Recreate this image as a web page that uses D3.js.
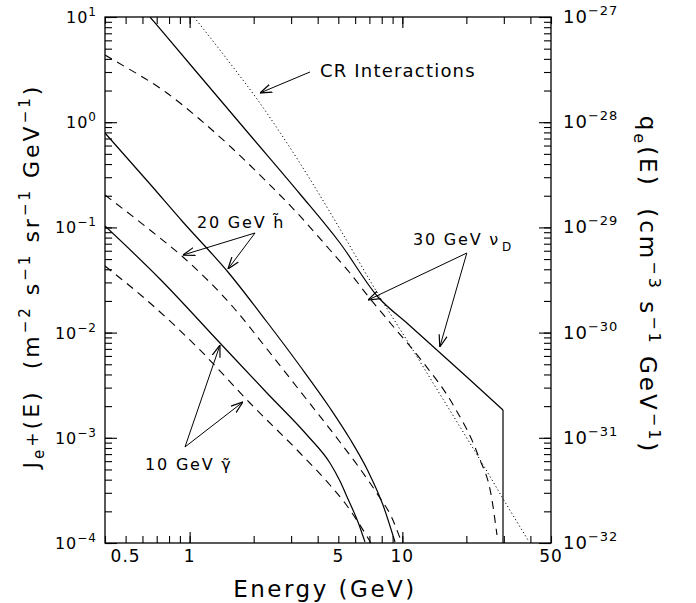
<!DOCTYPE html>
<html>
<head>
<meta charset="utf-8">
<script src="https://cdn.jsdelivr.net/npm/d3@7"></script>
<style>
  body { margin: 0; background: #fff; }
  svg text { font-family: "DejaVu Sans", sans-serif; fill: #000; white-space: pre; }
</style>
</head>
<body>
<svg id="chart" width="696" height="603"></svg>
<script>
// energies (GeV) and fluxes J
var crE = [1.048, 1.599, 2.073, 2.748, 3.801, 5.090, 7.683, 10.63, 14.71, 19.70, 24.47, 29.42, 38.97];
var crJ = [10, 3.347, 1.662, 0.7235, 0.2585, 0.09656, 0.02328, 0.008138, 0.002785, 0.001063, 0.0005163, 0.0002737, 0.0001068];

var nuSolidE = [0.651, 1.118, 1.921, 3.302, 5.090, 7.683, 10.63, 14.71, 20.35, 29.74];
var nuSolidJ = [10, 2.749, 0.7556, 0.2077, 0.07106, 0.02180, 0.01207, 0.006684, 0.003702, 0.001837];

var nuDashE = [0.400, 0.4554, 0.782, 1.118, 1.599, 2.310, 3.302, 4.568, 5.675, 6.893, 8.940, 12.37, 17.68, 22.68, 26.40, 27.86];
var nuDashJ = [4.354, 3.734, 1.895, 1.061, 0.5561, 0.2701, 0.1284, 0.06098, 0.03685, 0.02228, 0.01181, 0.005370, 0.001920, 0.0006864, 0.0002563, 0.0001191];

var hSolidE = [0.400, 0.651, 0.930, 1.514, 2.310, 3.302, 4.568, 5.675, 6.893, 8.110, 9.236];
var hSolidJ = [0.7895, 0.2585, 0.1125, 0.03767, 0.01261, 0.004815, 0.001920, 0.0009741, 0.0004835, 0.0002297, 0.0001022];

var hDashE = [0.400, 0.651, 0.930, 1.599, 2.310, 3.302, 5.090, 6.188, 7.683, 8.940, 9.748];
var hDashJ = [0.2032, 0.09447, 0.05233, 0.01751, 0.006984, 0.002785, 0.0009122, 0.0005394, 0.0002859, 0.0001728, 0.0001115];

var gSolidE = [0.400, 0.725, 1.389, 2.310, 3.562, 4.568, 5.090, 5.553, 6.188, 6.673];
var gSolidJ = [0.1031, 0.03232, 0.007962, 0.002666, 0.001063, 0.0005761, 0.0003885, 0.0002620, 0.0001583, 0.0001022];

var gDashE = [0.400, 0.651, 1.118, 1.921, 3.302, 4.568, 5.374, 6.188, 6.893, 7.120];
var gDashJ = [0.04295, 0.01911, 0.006835, 0.002142, 0.0007171, 0.0003558, 0.0002400, 0.0001583, 0.0001115, 0.0001];

var xTickLabels = [0.5, 1, 5, 10, 50];
var leftExponents = ["1", "0", "\u22121", "\u22122", "\u22123", "\u22124"];
var rightExponents = ["\u221227", "\u221228", "\u221229", "\u221230", "\u221231", "\u221232"];
var decades = [10, 1, 0.1, 0.01, 0.001, 0.0001];

(function() {
var svg = d3.select("#chart");
var pLeft = 105, pRight = 551, pTop = 17, pBottom = 543;

var x = d3.scaleLog().domain([0.4, 50]).range([pLeft, pRight]);
var y = d3.scaleLog().domain([1e-4, 10]).range([pBottom, pTop]);

function zip(a, b) { return a.map(function(v, i) { return [v, b[i]]; }); }

// ticks
var xMinor = x.ticks();
var xMajor = [1, 10];
var yMinor = y.ticks();
var yMajor = decades;

function tickAxis(axis, vals, size) {
  return axis.tickValues(vals).tickSize(size).tickSizeOuter(0).tickFormat("");
}
var axes = [
  [d3.axisBottom(x), "translate(0," + pBottom + ")", xMinor, -7],
  [d3.axisBottom(x), "translate(0," + pBottom + ")", xMajor, -11],
  [d3.axisTop(x), "translate(0," + pTop + ")", xMinor, -7],
  [d3.axisTop(x), "translate(0," + pTop + ")", xMajor, -11],
  [d3.axisLeft(y), "translate(" + pLeft + ",0)", yMinor, -7],
  [d3.axisLeft(y), "translate(" + pLeft + ",0)", yMajor, -12],
  [d3.axisRight(y), "translate(" + pRight + ",0)", yMinor, -7],
  [d3.axisRight(y), "translate(" + pRight + ",0)", yMajor, -12]
];
axes.forEach(function(a) {
  var g = svg.append("g").attr("transform", a[1]).call(tickAxis(a[0], a[2], a[3]));
  g.select(".domain").remove();
  g.selectAll("line").attr("stroke", "#000").attr("stroke-width", 1.1);
});

svg.append("rect")
  .attr("x", pLeft).attr("y", pTop)
  .attr("width", pRight - pLeft).attr("height", pBottom - pTop)
  .attr("fill", "none").attr("stroke", "#000").attr("stroke-width", 1.3);

// x tick labels
svg.selectAll(".xlab").data(xTickLabels).enter().append("text")
  .attr("class", "xlab")
  .attr("x", function(d) { return x(d); })
  .attr("y", 562)
  .attr("text-anchor", "middle")
  .attr("font-size", 17)
  .attr("letter-spacing", 1)
  .text(function(d) { return d; });

// left y labels
var yl = svg.selectAll(".ylab").data(decades).enter().append("text")
  .attr("class", "ylab")
  .attr("x", 97)
  .attr("y", function(d) { return y(d) + 6; })
  .attr("text-anchor", "end")
  .attr("font-size", 16)
  .attr("letter-spacing", 1);
yl.append("tspan").text("10");
yl.append("tspan").attr("font-size", 12).attr("dy", -7).text(function(d, i) { return leftExponents[i]; });

// right y labels
var yr = svg.selectAll(".yrlab").data(decades).enter().append("text")
  .attr("class", "yrlab")
  .attr("x", 563)
  .attr("y", function(d) { return y(d) + 6; })
  .attr("font-size", 18)
  .attr("letter-spacing", 1);
yr.append("tspan").text("10");
yr.append("tspan").attr("font-size", 13).attr("dy", -8).text(function(d, i) { return rightExponents[i]; });

// axis titles
svg.append("text")
  .attr("x", (pLeft + pRight) / 2 - 3).attr("y", 597)
  .attr("text-anchor", "middle")
  .attr("font-size", 23)
  .attr("letter-spacing", 2.5)
  .text("Energy (GeV)");

var lt = svg.append("text")
  .attr("transform", "translate(39,276) rotate(-90)")
  .attr("text-anchor", "middle")
  .attr("font-size", 22)
  .attr("letter-spacing", 3);
lt.append("tspan").text("J");
lt.append("tspan").attr("font-size", 15).attr("dy", 5).text("e");
lt.append("tspan").attr("font-size", 17).attr("dy", -6).text("+");
lt.append("tspan").attr("dy", 1).text("(E)  (m");
lt.append("tspan").attr("font-size", 15).attr("dy", -9).text("\u22122");
lt.append("tspan").attr("dy", 9).text(" s");
lt.append("tspan").attr("font-size", 15).attr("dy", -9).text("\u22121");
lt.append("tspan").attr("dy", 9).text(" sr");
lt.append("tspan").attr("font-size", 15).attr("dy", -9).text("\u22121");
lt.append("tspan").attr("dy", 9).text(" GeV");
lt.append("tspan").attr("font-size", 15).attr("dy", -9).text("\u22121");
lt.append("tspan").attr("dy", 9).text(")");

var rt = svg.append("text")
  .attr("transform", "translate(640,285) rotate(90)")
  .attr("text-anchor", "middle")
  .attr("font-size", 23)
  .attr("letter-spacing", 3);
rt.append("tspan").text("q");
rt.append("tspan").attr("font-size", 16).attr("dy", 6).text("e");
rt.append("tspan").attr("dy", -6).text("(E)  (cm");
rt.append("tspan").attr("font-size", 16).attr("dy", -9).text("\u22123");
rt.append("tspan").attr("dy", 9).text(" s");
rt.append("tspan").attr("font-size", 16).attr("dy", -9).text("\u22121");
rt.append("tspan").attr("dy", 9).text(" GeV");
rt.append("tspan").attr("font-size", 16).attr("dy", -9).text("\u22121");
rt.append("tspan").attr("dy", 9).text(")");

// curves
svg.append("clipPath").attr("id", "plotclip").append("rect")
  .attr("x", pLeft).attr("y", pTop).attr("width", pRight - pLeft).attr("height", pBottom - pTop);
var plot = svg.append("g").attr("clip-path", "url(#plotclip)");

var line = d3.line()
  .x(function(d) { return x(d[0]); })
  .y(function(d) { return y(d[1]); })
  .curve(d3.curveMonotoneX);

var series = [
  [zip(crE, crJ), "1.2,2.6", 1.0],
  [zip(nuSolidE, nuSolidJ), null, 1.2],
  [zip(nuDashE, nuDashJ), "8,6", 1.1],
  [zip(hSolidE, hSolidJ), null, 1.2],
  [zip(hDashE, hDashJ), "8,6", 1.1],
  [zip(gSolidE, gSolidJ), null, 1.2],
  [zip(gDashE, gDashJ), "8,6", 1.1]
];
series.forEach(function(s) {
  plot.append("path")
    .datum(s[0])
    .attr("d", line)
    .attr("fill", "none")
    .attr("stroke", "#000")
    .attr("stroke-width", s[2])
    .attr("stroke-dasharray", s[1]);
});
// sharp cutoff of the 30 GeV line
var lastE = nuSolidE[nuSolidE.length - 1], lastJ = nuSolidJ[nuSolidJ.length - 1];
plot.append("path")
  .datum([[lastE, lastJ], [lastE, 1e-4]])
  .attr("d", d3.line().x(function(d) { return x(d[0]); }).y(function(d) { return y(d[1]); }))
  .attr("fill", "none").attr("stroke", "#000").attr("stroke-width", 1.2);

// annotations
svg.append("defs").append("marker")
  .attr("id", "arr")
  .attr("markerUnits", "userSpaceOnUse")
  .attr("markerWidth", 12).attr("markerHeight", 12)
  .attr("viewBox", "0 0 10 10")
  .attr("refX", 10).attr("refY", 5)
  .attr("orient", "auto")
  .append("path")
  .attr("d", "M0,1.6 L10,5 L0,8.4")
  .attr("fill", "none").attr("stroke", "#000").attr("stroke-width", 1);

var arrows = [
  [[3.68, 3.0], [2.14, 1.896]],
  [[2.03, 0.0885], [0.930, 0.0546]],
  [[2.03, 0.0885], [1.514, 0.0402]],
  [[20.1, 0.0571], [6.9, 0.0204]],
  [[20.1, 0.0571], [15.0, 0.0073]],
  [[0.951, 0.000818], [1.389, 0.00762]],
  [[0.951, 0.000818], [1.781, 0.00219]]
];
arrows.forEach(function(a) {
  svg.append("line")
    .attr("x1", x(a[0][0])).attr("y1", y(a[0][1]))
    .attr("x2", x(a[1][0])).attr("y2", y(a[1][1]))
    .attr("stroke", "#000").attr("stroke-width", 1)
    .attr("marker-end", "url(#arr)");
});

svg.append("text")
  .attr("x", x(4.10)).attr("y", y(2.69))
  .attr("font-size", 18).attr("letter-spacing", 1.2)
  .text("CR Interactions");

svg.append("text")
  .attr("x", x(1.083)).attr("y", y(0.0987))
  .attr("font-size", 16).attr("letter-spacing", 1.8)
  .text("20 GeV h\u0303");

var nt = svg.append("text")
  .attr("x", x(11.22)).attr("y", y(0.068))
  .attr("font-size", 16).attr("letter-spacing", 1.8);
nt.append("tspan").text("30 GeV \u03bd");
nt.append("tspan").attr("font-size", 12).attr("dy", 6).attr("dx", 2).text("D");

svg.append("text")
  .attr("x", x(0.617)).attr("y", y(0.000494))
  .attr("font-size", 16).attr("letter-spacing", 1.8)
  .text("10 GeV \u03b3\u0303");
})();
</script>
</body>
</html>
